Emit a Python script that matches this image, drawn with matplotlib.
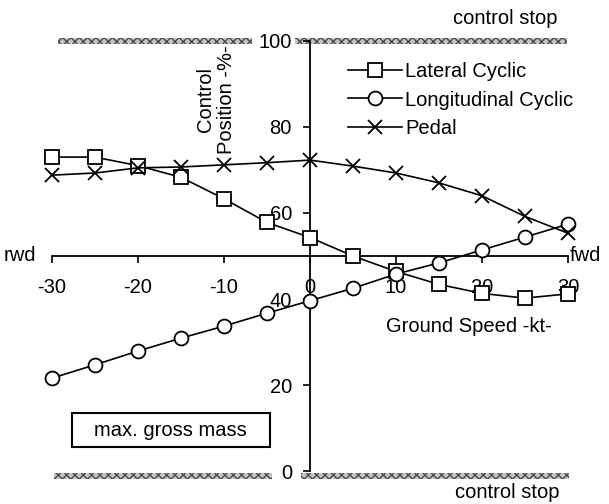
import matplotlib
matplotlib.use('Agg')
import matplotlib.pyplot as plt
from matplotlib.patches import Rectangle

# ground speed in kt (negative = rearward)
speed = [-30, -25, -20, -15, -10, -5, 0, 5, 10, 15, 20, 25, 30]

# control positions in %
lateral = [73.0, 73.0, 71.0, 68.3, 63.3, 57.8, 54.3, 50.0, 46.4, 43.4, 41.3, 40.2, 41.2]
longitudinal = [21.6, 24.7, 27.9, 30.9, 33.7, 36.7, 39.6, 42.5, 45.8, 48.4, 51.4, 54.4, 57.4]
pedal = [68.8, 69.3, 70.5, 70.7, 71.2, 71.7, 72.3, 70.9, 69.3, 67.0, 64.0, 59.2, 55.3]

series_names = ['Lateral Cyclic', 'Longitudinal Cyclic', 'Pedal']
x_ticks = [-30, -20, -10, 0, 10, 20, 30]
y_ticks = [0, 20, 40, 60, 80, 100]

plt.rcParams['font.family'] = ['Liberation Sans', 'DejaVu Sans']
plt.rcParams['font.size'] = 14.5

fig = plt.figure(figsize=(6.09, 5.04), dpi=100)
ax = fig.add_axes([0, 0, 1, 1])
ax.set_xlim(-36.05, 34.77)
ax.set_ylim(-7.67, 109.53)
ax.patch.set_alpha(0)

# axes crossing in the middle
for side in ['top', 'right']:
    ax.spines[side].set_visible(False)
ax.spines['left'].set_position(('data', 0))
ax.spines['bottom'].set_position(('data', 50))
ax.spines['left'].set_bounds(0, 100)
ax.spines['bottom'].set_bounds(-30, 30)
for side in ['left', 'bottom']:
    ax.spines[side].set_linewidth(1.3)
ax.set_xticks(x_ticks)
ax.set_yticks(y_ticks)
ax.set_xticklabels([str(t) for t in x_ticks])
ax.set_yticklabels([str(t) for t in y_ticks])
ax.tick_params(axis='x', direction='out', length=5, width=1.2, pad=11)
ax.tick_params(axis='y', direction='out', length=5, width=1.2, pad=8)

# control stop bands
for x0, x1, y0, y1 in [(-29.3, -6.7, 99.3, 100.7), (-1.7, 29.9, 99.3, 100.7),
                       (-29.8, -4.4, -1.9, -0.5), (-1.0, 30.1, -1.9, -0.5)]:
    ax.add_patch(Rectangle((x0, y0), x1 - x0, y1 - y0, facecolor='#c4c4c4',
                           edgecolor='#4a4a4a', hatch='xxxx', lw=0, zorder=1))

style = dict(color='black', lw=1.2, mfc='white', mec='black', mew=1.3, ms=10)
ax.plot(speed, lateral, marker='s', label=series_names[0], zorder=3, **style)
ax.plot(speed, longitudinal, marker='o', label=series_names[1], zorder=3, **style)
ax.plot(speed, pedal, marker='x', label=series_names[2], zorder=4, **style)

ax.legend(loc='upper left', bbox_to_anchor=(4.4, 95.0), bbox_transform=ax.transData,
          frameon=False, borderpad=0, borderaxespad=0, handlelength=2.7,
          handletextpad=0.15, labelspacing=0.45)

ax.text(-10.9, 86.3, 'Control\nPosition -%-', rotation=90, ha='center', va='center',
        linespacing=1.15)
ax.text(22.7, 105.3, 'control stop', ha='center', va='center')
ax.text(22.9, -5.0, 'control stop', ha='center', va='center')
ax.text(18.5, 33.5, 'Ground Speed -kt-', ha='center', va='center')
ax.text(-33.7, 50, 'rwd', ha='center', va='center')
ax.text(32.0, 50, 'fwd', ha='center', va='center')

ax.add_patch(Rectangle((-27.7, 5.6), 23.05, 7.9, facecolor='white',
                       edgecolor='black', lw=1.5, zorder=2))
ax.text(-16.2, 9.5, 'max. gross mass', ha='center', va='center', zorder=3)

fig.savefig('out.png', dpi=100)
